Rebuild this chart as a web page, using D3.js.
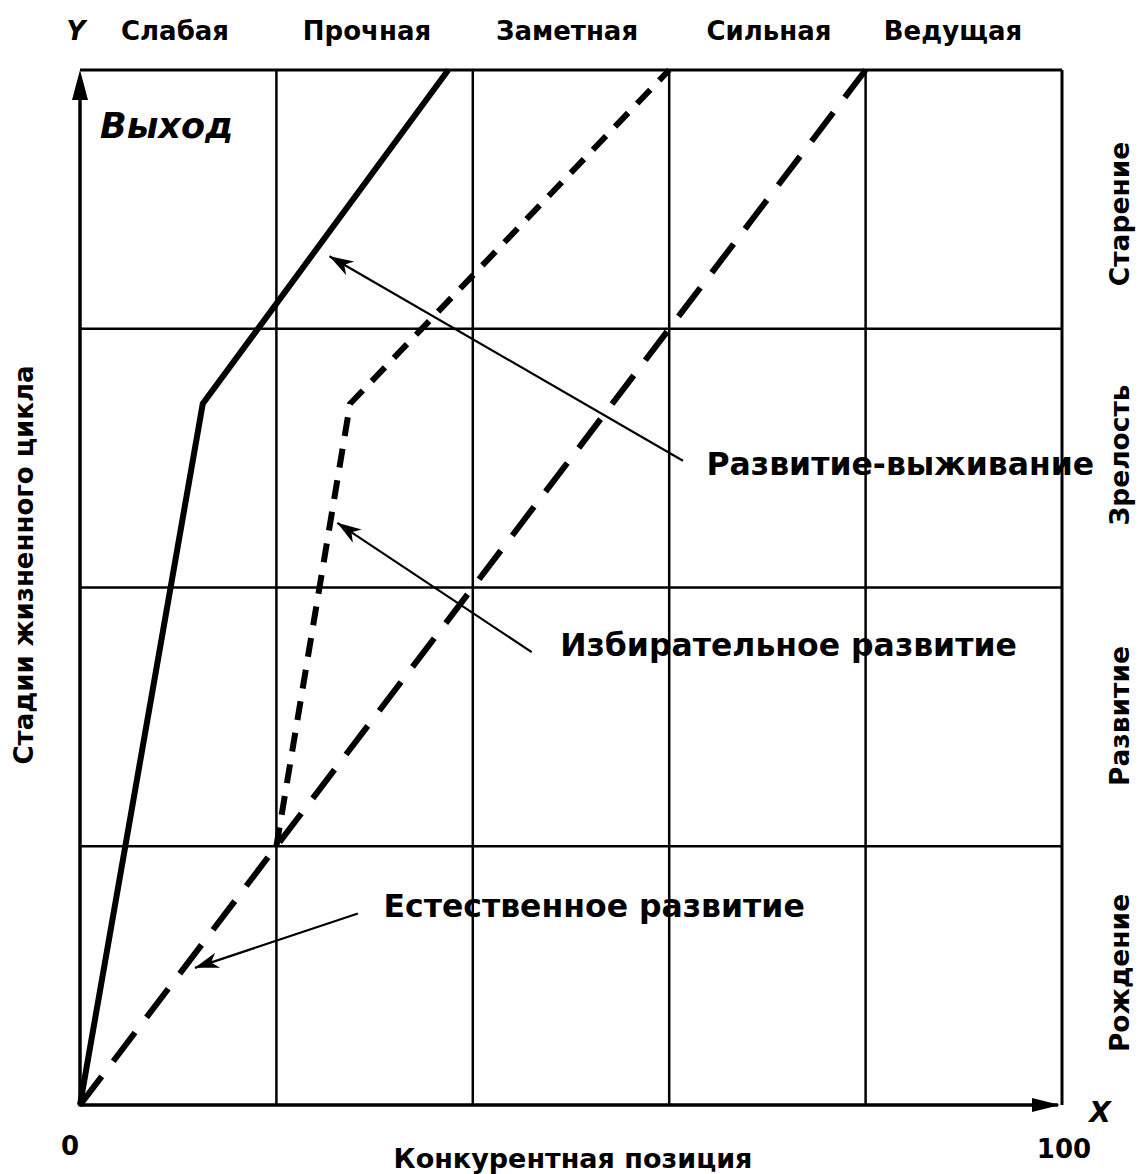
<!DOCTYPE html>
<html><head><meta charset="utf-8">
<script src="https://cdn.jsdelivr.net/npm/d3@7"></script>
<style>
html,body{margin:0;padding:0;background:#fff;}
svg text{font-family:"DejaVu Sans","Liberation Sans",Arial,sans-serif;font-weight:bold;fill:#000;}
</style></head>
<body>
<script>
// ---- data ----
const columnLabels = ["Слабая","Прочная","Заметная","Сильная","Ведущая"];
const rowLabels = ["Рождение","Развитие","Зрелость","Старение"];
const xTicks = [0, 20, 40, 60, 80, 100];
const yTicks = [0, 1, 2, 3, 4];
// Развитие-выживание (solid)
const survivalX = [0, 12.5, 37.5];
const survivalY = [0, 2.71, 4];
// Избирательное развитие (short dashes)
const selectiveX = [20, 27.5, 60];
const selectiveY = [1, 2.71, 4];
// Естественное развитие (long dashes)
const naturalX = [0, 20, 40, 60, 80];
const naturalY = [0, 1, 2, 3, 4];
// annotations: label, text position, arrow start, arrow tip (data units)
const annLabels = ["Развитие-выживание","Избирательное развитие","Естественное развитие"];
const annTextX = [63.8, 48.9, 30.9];
const annTextY = [2.47, 1.77, 0.76];
const annFromX = [61.4, 46.0, 28.3];
const annFromY = [2.49, 1.75, 0.74];
const annToX = [25.4, 26.2, 11.7];
const annToY = [3.28, 2.25, 0.53];

// ---- layout ----
const W = 1140, H = 1174;
const svg = d3.select("body").append("svg").attr("width", W).attr("height", H);
const x = d3.scaleLinear().domain([0, 100]).range([80, 1062]);
const y = d3.scaleLinear().domain([0, 4]).range([1105, 70]);

const defs = svg.append("defs");
defs.append("marker").attr("id","ah").attr("markerUnits","userSpaceOnUse")
  .attr("viewBox","-24 -10 26 20").attr("refX",0).attr("refY",0)
  .attr("markerWidth",26).attr("markerHeight",20).attr("orient","auto")
  .append("path").attr("d","M0,0 L-24,-8 L-17,0 L-24,8 Z").attr("fill","#000");

// grid
const g = svg.append("g");
g.selectAll(".vg").data(xTicks.slice(1)).enter().append("line")
  .attr("x1", d => x(d)).attr("x2", d => x(d)).attr("y1", y(0)).attr("y2", y(4))
  .attr("stroke","#000").attr("stroke-width", d => d === 100 ? 3 : 2.5);
g.selectAll(".hg").data(yTicks.slice(1)).enter().append("line")
  .attr("x1", x(0)).attr("x2", x(100)).attr("y1", d => y(d)).attr("y2", d => y(d))
  .attr("stroke","#000").attr("stroke-width", d => d === 4 ? 3 : 2.5);

// axes with arrows
g.append("line").attr("x1", x(0)).attr("x2", x(0)).attr("y1", y(0)+1.5).attr("y2", y(4)+10)
  .attr("stroke","#000").attr("stroke-width",3.5);
g.append("path").attr("d", `M${x(0)},${y(4)} L${x(0)-8},${y(4)+30} L${x(0)+8},${y(4)+30} Z`).attr("fill","#000");
g.append("line").attr("x1", x(0)).attr("x2", x(100)-4).attr("y1", y(0)).attr("y2", y(0))
  .attr("stroke","#000").attr("stroke-width",3.5);
g.append("path").attr("d", `M${x(100)-2},${y(0)} L${x(100)-30},${y(0)-7} L${x(100)-30},${y(0)+7} Z`).attr("fill","#000");

// series
const line = d3.line().x(d => x(d[0])).y(d => y(d[1]));
const series = [
  {pts: d3.zip(survivalX, survivalY), dash: null},
  {pts: d3.zip(selectiveX, selectiveY), dash: "19,13"},
  {pts: d3.zip(naturalX, naturalY), dash: "36,19"}
];
svg.selectAll(".series").data(series).enter().append("path")
  .attr("d", d => line(d.pts)).attr("fill","none").attr("stroke","#000")
  .attr("stroke-width",6).attr("stroke-linejoin","miter")
  .attr("stroke-dasharray", d => d.dash);

// annotation arrows
svg.selectAll(".ann").data(annLabels).enter().append("line")
  .attr("x1", (d,i) => x(annFromX[i])).attr("y1", (d,i) => y(annFromY[i]))
  .attr("x2", (d,i) => x(annToX[i])).attr("y2", (d,i) => y(annToY[i]))
  .attr("stroke","#000").attr("stroke-width",2.2).attr("marker-end","url(#ah)");
svg.selectAll(".annt").data(annLabels).enter().append("text")
  .attr("x", (d,i) => x(annTextX[i])).attr("y", (d,i) => y(annTextY[i]))
  .attr("font-size",31.5).attr("dominant-baseline","middle").text(d => d);

// column labels
const colCenters = [175, 367, 567, 769, 953];
svg.selectAll(".cl").data(columnLabels).enter().append("text")
  .attr("x", (d,i) => colCenters[i]).attr("y", 32)
  .attr("text-anchor","middle").attr("dominant-baseline","middle").attr("font-size",26)
  .text(d => d);
// row labels
const rowCenters = [973, 716, 455, 214];
svg.selectAll(".rl").data(rowLabels).enter().append("text")
  .attr("transform", (d,i) => `translate(1121,${rowCenters[i]}) rotate(-90)`)
  .attr("text-anchor","middle").attr("dominant-baseline","middle").attr("font-size",26.5)
  .text(d => d);

// misc labels
svg.append("text").attr("x",76).attr("y",32).attr("text-anchor","middle").attr("dominant-baseline","middle")
  .attr("font-size",26).attr("font-style","italic").text("Y");
svg.append("text").attr("x",1100).attr("y",1114).attr("text-anchor","middle").attr("dominant-baseline","middle")
  .attr("font-size",28).attr("font-style","italic").text("X");
svg.append("text").attr("x",70).attr("y",1147).attr("text-anchor","middle").attr("dominant-baseline","middle")
  .attr("font-size",26).text(xTicks[0]);
svg.append("text").attr("x",1064).attr("y",1150).attr("text-anchor","middle").attr("dominant-baseline","middle")
  .attr("font-size",26).text(xTicks[xTicks.length-1]);
svg.append("text").attr("x",573).attr("y",1160).attr("text-anchor","middle").attr("dominant-baseline","middle")
  .attr("font-size",27).text("Конкурентная позиция");
svg.append("text").attr("transform","translate(25,565) rotate(-90)").attr("text-anchor","middle")
  .attr("dominant-baseline","middle").attr("font-size",26).text("Стадии жизненного цикла");
svg.append("text").attr("x",100).attr("y",128).attr("dominant-baseline","middle")
  .attr("font-size",35).attr("font-style","italic").text("Выход");
</script>
</body></html>
